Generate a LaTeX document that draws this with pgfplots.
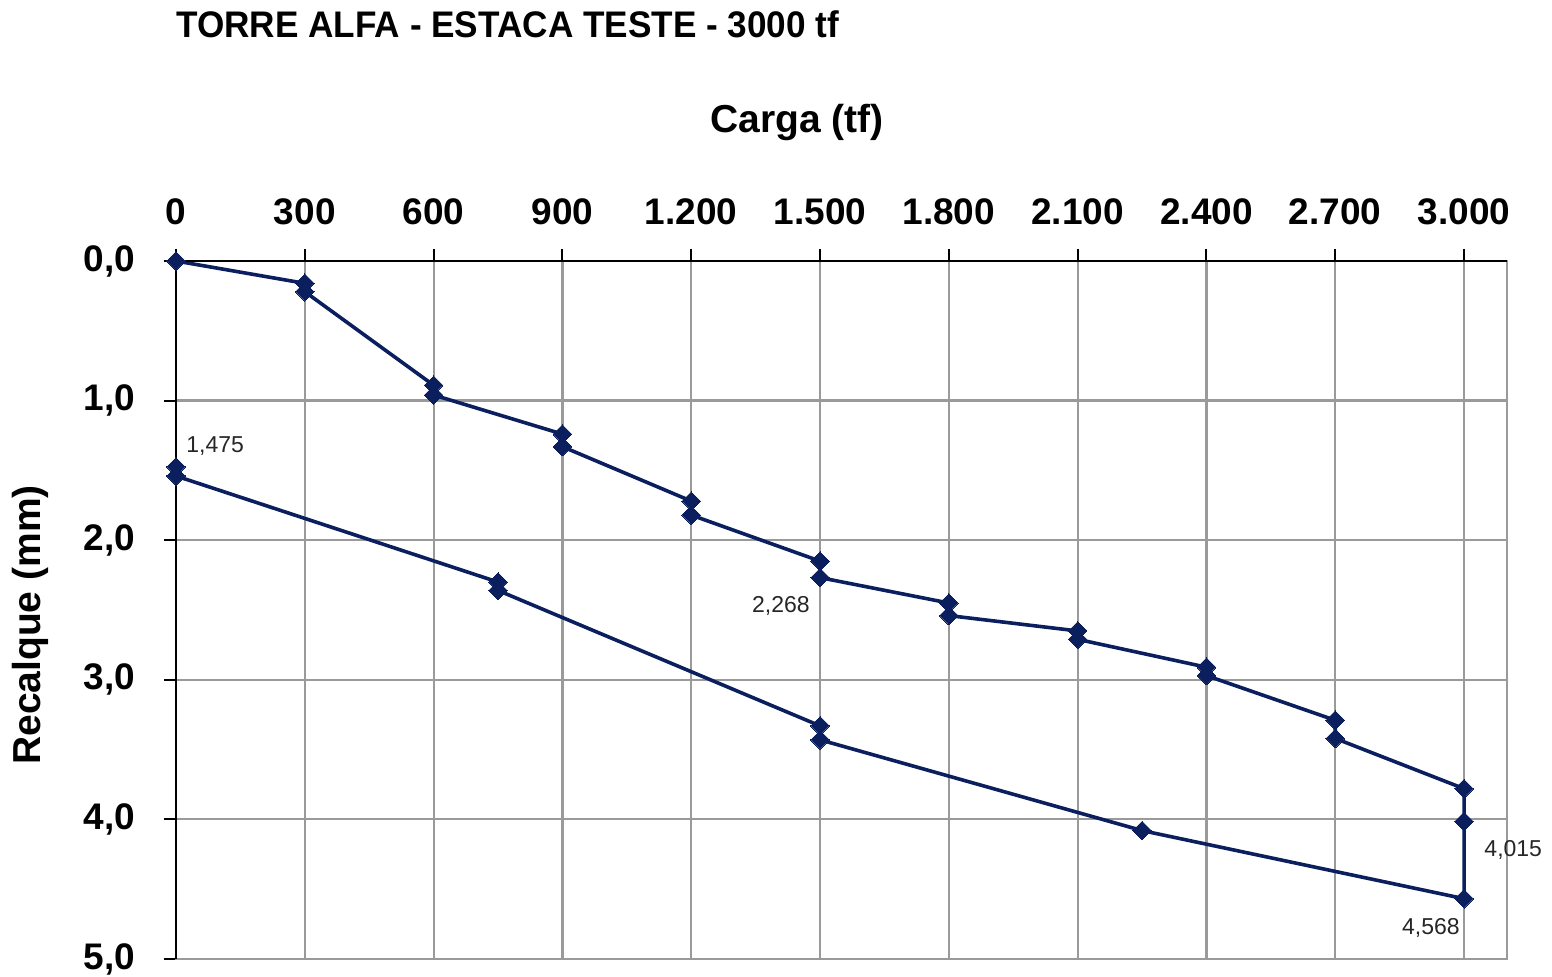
\documentclass[border=0pt]{standalone}
\usepackage{fontspec}
\setmainfont{Liberation Sans}
\usepackage{pgfplots}
\pgfplotsset{compat=1.18}
\definecolor{serie}{HTML}{0B1F5E}
\definecolor{grade}{HTML}{9A9A9A}
\definecolor{rotulo}{HTML}{262626}
\begin{document}
\begin{tikzpicture}
\useasboundingbox (-88pt,-9pt) rectangle (688pt,479.5pt);
\begin{axis}[
    scale only axis,
    width=665.5pt, height=349pt,
    xmin=0, xmax=3100,
    ymin=0, ymax=5,
    y dir=reverse,
    xtick={0,300,...,3000},
    ytick={0,1,2,3,4,5},
    xtick pos=right, xticklabel pos=right,
    ytick pos=left,
    tick align=outside,
    major tick length=6pt,
    grid=major,
    grid style={line width=1.1pt, color=grade},
    axis line style={line width=1.1pt, color=grade},
    tick style={line width=1pt, color=black},
    ticklabel style={font=\fontsize{18.5}{20}\selectfont\bfseries},
    /pgf/number format/assume math mode=true,
    xticklabel style={/pgf/number format/1000 sep={.}, anchor=base, yshift=12pt},
    yticklabel style={/pgf/number format/.cd, fixed, fixed zerofill, precision=1, use comma,
        /tikz/.cd, anchor=east, xshift=-11pt},
    clip=false,
]
% carregamento e descarregamento
\addplot[serie, line width=1.8pt, mark=square*,
    mark options={rotate=45, fill=serie, draw=serie, line width=0pt}, mark size=3.3pt]
coordinates {
(0,0) (300,0.16) (300,0.22) (600,0.89) (600,0.96)
(900,1.24) (900,1.33) (1200,1.72) (1200,1.82)
(1500,2.15) (1500,2.268) (1800,2.45) (1800,2.54)
(2100,2.65) (2100,2.71) (2400,2.91) (2400,2.97)
(2700,3.29) (2700,3.42) (3000,3.78) (3000,4.015) (3000,4.568)
(2250,4.08) (1500,3.43) (1500,3.33) (750,2.36) (750,2.30)
(0,1.54) (0,1.475)
};
\draw[black, line width=1pt] (rel axis cs:0,0) -- (rel axis cs:0,1);
\draw[black, line width=1pt] (rel axis cs:0,1) -- (rel axis cs:1,1);
\node[anchor=base west, rotulo, font=\fontsize{11.5}{13}\selectfont, inner sep=0pt]
    at ([shift={(5pt,7pt)}]axis cs:0,1.475) {1,475};
\node[anchor=base east, rotulo, font=\fontsize{11.5}{13}\selectfont, inner sep=0pt]
    at ([shift={(-5pt,-17.5pt)}]axis cs:1500,2.268) {2,268};
\node[anchor=base west, rotulo, font=\fontsize{11.5}{13}\selectfont, inner sep=0pt]
    at ([shift={(10pt,-17.5pt)}]axis cs:3000,4.015) {4,015};
\node[anchor=base east, rotulo, font=\fontsize{11.5}{13}\selectfont, inner sep=0pt]
    at ([shift={(-2pt,-18pt)}]axis cs:3000,4.568) {4,568};
\end{axis}
\node[anchor=base west, inner sep=0pt, xscale=0.95, font=\fontsize{18.5}{20}\selectfont\bfseries]
    at (0,460.5pt) {TORRE ALFA - ESTACA TESTE - 3000 tf};
\node[anchor=base, inner sep=0pt, font=\fontsize{19.5}{22}\selectfont\bfseries]
    at (310.5pt,413pt) {Carga (tf)};
\node[rotate=90, inner sep=0pt, font=\fontsize{19.5}{22}\selectfont\bfseries]
    at (-73pt,167pt) {Recalque (mm)};
\end{tikzpicture}
\end{document}
